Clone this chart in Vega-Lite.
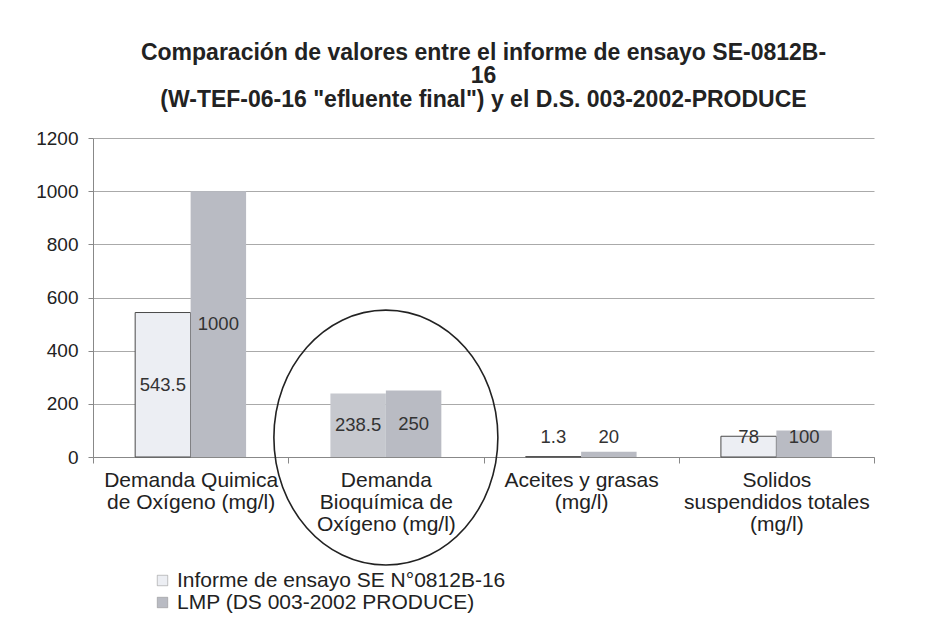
{
  "$schema": "https://vega.github.io/schema/vega-lite/v6.json",
  "width": 781,
  "height": 319,
  "autosize": "none",
  "padding": {"left": 93, "top": 138, "right": 77, "bottom": 168},
  "background": "white",
  "title": {
    "text": ["Comparación de valores entre el informe de ensayo SE-0812B-", "16", "(W-TEF-06-16 \"efluente final\") y el D.S. 003-2002-PRODUCE"],
    "font": "Liberation Sans",
    "fontSize": 23,
    "fontWeight": "bold",
    "color": "#222222",
    "lineHeight": 23.6,
    "anchor": "middle",
    "offset": 17
  },
  "datasets": {
    "bars": [
      {"c": "Demanda Quimica|de Oxígeno (mg/l)", "s": "Informe de ensayo SE N°0812B-16", "v": 543.5},
      {"c": "Demanda Quimica|de Oxígeno (mg/l)", "s": "LMP (DS 003-2002 PRODUCE)", "v": 1000},
      {"c": "Demanda|Bioquímica de|Oxígeno (mg/l)", "s": "Informe de ensayo SE N°0812B-16", "v": 238.5},
      {"c": "Demanda|Bioquímica de|Oxígeno (mg/l)", "s": "LMP (DS 003-2002 PRODUCE)", "v": 250},
      {"c": "Aceites y grasas|(mg/l)", "s": "Informe de ensayo SE N°0812B-16", "v": 1.3},
      {"c": "Aceites y grasas|(mg/l)", "s": "LMP (DS 003-2002 PRODUCE)", "v": 20},
      {"c": "Solidos|suspendidos totales|(mg/l)", "s": "Informe de ensayo SE N°0812B-16", "v": 78},
      {"c": "Solidos|suspendidos totales|(mg/l)", "s": "LMP (DS 003-2002 PRODUCE)", "v": 100}
    ],
    "mark": [
      {"c": "Demanda|Bioquímica de|Oxígeno (mg/l)", "v": 73}
    ]
  },
  "layer": [
    {
      "data": {"name": "bars"},
      "mark": {"type": "bar", "strokeWidth": 1},
      "encoding": {
        "x": {
          "field": "c", "type": "nominal", "sort": null,
          "scale": {"paddingInner": 0, "paddingOuter": 0},
          "axis": {
            "title": null,
            "labelExpr": "split(datum.label, '|')",
            "labelAngle": 0,
            "labelLimit": 400,
            "tickBand": "extent",
            "tickSize": 6,
            "tickColor": "#888888",
            "domainColor": "#888888",
            "labelFont": "Liberation Sans",
            "labelFontSize": 21,
            "labelLineHeight": 22,
            "labelPadding": 6,
            "labelColor": "#222222",
            "grid": false
          }
        },
        "xOffset": {
          "field": "s", "type": "nominal", "sort": null,
          "scale": {"paddingInner": 0, "paddingOuter": 0.76}
        },
        "y": {
          "field": "v", "type": "quantitative",
          "scale": {"domain": [0, 1200], "nice": false},
          "axis": {
            "title": null,
            "values": [0, 200, 400, 600, 800, 1000, 1200],
            "format": "d",
            "grid": true,
            "gridColor": "#aaaaaa",
            "gridWidth": 1,
            "domainColor": "#888888",
            "tickColor": "#888888",
            "tickSize": 5,
            "labelFont": "Liberation Sans",
            "labelFontSize": 19,
            "labelPadding": 10,
            "labelColor": "#222222"
          }
        },
        "color": {
          "condition": {"test": "datum.c === 'Demanda|Bioquímica de|Oxígeno (mg/l)' && datum.s === 'Informe de ensayo SE N°0812B-16'", "value": "#c6c8ce"},
          "field": "s", "type": "nominal", "sort": null,
          "scale": {"domain": ["Informe de ensayo SE N°0812B-16", "LMP (DS 003-2002 PRODUCE)"], "range": ["#eceef3", "#b9bbc3"]},
          "legend": {
            "orient": "none",
            "legendX": 59,
            "legendY": 432,
            "direction": "vertical",
            "title": null,
            "padding": 0,
            "rowPadding": 0,
            "symbolType": "square",
            "symbolSize": 110,
            "symbolStrokeColor": "#888888",
            "symbolStrokeWidth": 0.5,
            "labelFont": "Liberation Sans",
            "labelFontSize": 21,
            "labelColor": "#222222",
            "labelOffset": 4,
            "labelLimit": 600
          }
        },
        "stroke": {
          "condition": {"test": "datum.s === 'Informe de ensayo SE N°0812B-16' && datum.c !== 'Demanda|Bioquímica de|Oxígeno (mg/l)'", "value": "#4a4a4a"},
          "value": "transparent"
        }
      }
    },
    {
      "data": {"name": "bars"},
      "transform": [{"calculate": "max(datum.v / 2, 75)", "as": "ly"}],
      "mark": {"type": "text", "font": "Liberation Sans", "fontSize": 18.5, "color": "#333333", "baseline": "middle", "align": "center"},
      "encoding": {
        "x": {"field": "c", "type": "nominal", "sort": null},
        "xOffset": {"field": "s", "type": "nominal", "sort": null},
        "y": {"field": "ly", "type": "quantitative"},
        "text": {"field": "v", "type": "quantitative"}
      }
    },
    {
      "data": {"name": "mark"},
      "mark": {
        "type": "point",
        "shape": "M-1,0A1,1.138,0,1,1,1,0A1,1.138,0,1,1,-1,0Z",
        "filled": false,
        "stroke": "#222222",
        "strokeWidth": 1.6,
        "size": 50176,
        "opacity": 1
      },
      "encoding": {
        "x": {"field": "c", "type": "nominal", "sort": null},
        "y": {"field": "v", "type": "quantitative"}
      }
    }
  ],
  "config": {
    "view": {"stroke": null}
  }
}
